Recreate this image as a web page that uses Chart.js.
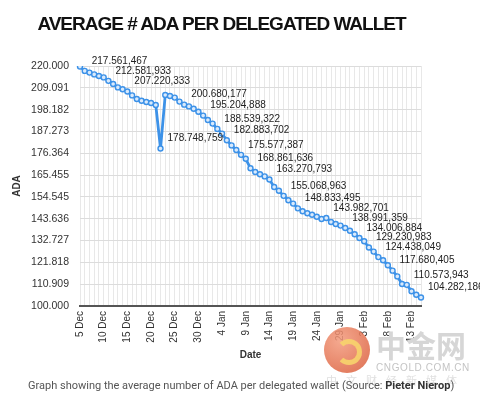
<!DOCTYPE html>
<html>
<head>
<meta charset="utf-8">
<script src="https://cdn.jsdelivr.net/npm/chart.js@4"></script>
<style>
  html, body { margin: 0; padding: 0; background: #fff; }
  #wrap { position: relative; width: 480px; height: 399px; overflow: hidden; }
  #c { position: absolute; left: 0; top: 0; }
  #title {
    position: absolute; left: 0; top: 14px; width: 443px; text-align: center;
    font: bold 19px/19px "Liberation Sans", Arial, sans-serif; letter-spacing: -1px; color: #111;
  }
  #caption {
    position: absolute; left: 28px; top: 379px; white-space: nowrap;
    font: 11px/14px Roboto, "Noto Sans", sans-serif; color: #555;
  }
  #caption b { color: #333; }
  .wm { position: absolute; pointer-events: none; white-space: nowrap; }
  #logo {
    left: 324px; top: 327px; width: 46px; height: 46px; border-radius: 50%;
    background: radial-gradient(circle at 35% 30%, #f39a7c, #e06a48 70%, #d35a3c);
    opacity: 0.85;
  }
  #swirl {
    left: 336px; top: 339px; width: 16px; height: 16px; border-radius: 50%;
    border: 5px solid #f8d46c; border-left-color: transparent; opacity: 0.9;
  }
  #cn { left: 376px; top: 327px; font: bold 30px/34px "Noto Sans CJK SC", sans-serif; color: #d6d6d6; }
  #en { left: 376px; top: 362px; font: 10px/11px "Liberation Sans", Arial, sans-serif; color: #c4c4c4; letter-spacing: 0.6px; }
  #sub { left: 326px; top: 374px; font: 11px/12px "Noto Sans CJK SC", sans-serif; color: #e0e0e0; letter-spacing: 9px; }
</style>
</head>
<body>
<div id="wrap">
  <canvas id="c" width="480" height="399"></canvas>
  <div id="title">AVERAGE # ADA PER DELEGATED WALLET</div>
  <div class="wm" id="logo"></div>
  <div class="wm" id="swirl"></div>
  <div class="wm" id="cn">中金网</div>
  <div class="wm" id="en">CNGOLD.COM.CN</div>
  <div class="wm" id="sub">中文财经新媒体</div>
  <div id="caption">Graph showing the average number of ADA per delegated wallet (Source: <b>Pieter Nierop</b>)</div>
</div>
<script>
// dates, one per day
var days = [
  "5 Dec", "6 Dec", "7 Dec", "8 Dec", "9 Dec", "10 Dec", "11 Dec", "12 Dec", "13 Dec", "14 Dec",
  "15 Dec", "16 Dec", "17 Dec", "18 Dec", "19 Dec", "20 Dec", "21 Dec", "22 Dec", "23 Dec", "24 Dec",
  "25 Dec", "26 Dec", "27 Dec", "28 Dec", "29 Dec", "30 Dec", "31 Dec",
  "1 Jan", "2 Jan", "3 Jan", "4 Jan", "5 Jan", "6 Jan", "7 Jan", "8 Jan", "9 Jan", "10 Jan",
  "11 Jan", "12 Jan", "13 Jan", "14 Jan", "15 Jan", "16 Jan", "17 Jan", "18 Jan", "19 Jan", "20 Jan",
  "21 Jan", "22 Jan", "23 Jan", "24 Jan", "25 Jan", "26 Jan", "27 Jan", "28 Jan", "29 Jan", "30 Jan", "31 Jan",
  "1 Feb", "2 Feb", "3 Feb", "4 Feb", "5 Feb", "6 Feb", "7 Feb", "8 Feb", "9 Feb", "10 Feb",
  "11 Feb", "12 Feb", "13 Feb", "14 Feb", "15 Feb"
];

// which dates get a label on the x axis
var tickLabels = ["5 Dec", "10 Dec", "15 Dec", "20 Dec", "25 Dec", "30 Dec", "4 Jan", "9 Jan",
  "14 Jan", "19 Jan", "24 Jan", "29 Jan", "3 Feb", "8 Feb", "13 Feb"];

// average ADA per delegated wallet (thousands)
var adaValues = [
  219.7, 217.561, 216.7, 215.8, 215.0, 214.3, 212.582, 211.0, 209.3, 208.4,
  207.220, 205.3, 203.5, 202.6, 202.0, 201.5, 200.5, 178.749, 205.5, 205.0,
  204.2, 202.2, 200.680, 199.8, 198.6, 197.1, 195.205,
  193.0, 191.2, 188.539, 186.2, 182.884, 180.3, 178.0, 175.577, 173.6, 168.862,
  167.0, 165.9, 164.8, 163.271, 159.5, 157.6, 155.069, 152.9, 151.2, 148.833,
  147.4, 146.4, 145.6, 144.6, 143.5, 143.983, 142.0, 141.0, 140.2, 138.991, 137.6,
  135.9, 134.007, 132.4, 129.231, 127.2, 124.438, 122.9, 120.4, 117.680, 114.8,
  111.0, 110.574, 107.4, 105.6, 104.282
];

// value labels written next to some points
var labelIndex = [1, 6, 10, 17, 22, 26, 29, 31, 34, 36, 40, 43, 46, 52, 56, 59, 61, 63, 66, 69, 72];
var labelText = [
  "217.561,467", "212.581,933", "207.220,333", "178.748,759", "200.680,177", "195.204,888",
  "188.539,322", "182.883,702", "175.577,387", "168.861,636", "163.270,793", "155.068,963",
  "148.833,495", "143.982,701", "138.991,359", "134.006,884", "129.230,983", "124.438,049",
  "117.680,405", "110.573,943", "104.282,186"
];

var yTicks = { min: 100, max: 220, count: 12 };

var FONT = '"Liberation Sans", Arial, sans-serif';

// draws the value text beside the marked points
var pointLabels = {
  id: "pointLabels",
  afterDatasetsDraw: function (chart) {
    var ctx = chart.ctx;
    var meta = chart.getDatasetMeta(0);
    ctx.save();
    ctx.font = "10px " + FONT;
    ctx.fillStyle = "#222";
    ctx.textBaseline = "middle";
    ctx.textAlign = "left";
    labelIndex.forEach(function (idx, k) {
      var p = meta.data[idx];
      ctx.fillText(labelText[k], p.x + 7, p.y - 10);
    });
    ctx.restore();
  }
};

var ctx = document.getElementById("c").getContext("2d");
new Chart(ctx, {
  type: "line",
  data: {
    labels: days,
    datasets: [{
      data: adaValues,
      borderColor: "#3d92e8",
      borderWidth: 2.8,
      pointRadius: 2.5,
      pointBorderWidth: 1.4,
      pointBackgroundColor: "#d9eafc",
      pointBorderColor: "#3d92e8",
      tension: 0,
      fill: false
    }]
  },
  options: {
    responsive: false,
    animation: false,
    layout: { padding: { left: 0, right: 59, top: 66, bottom: 34 } },
    plugins: {
      legend: { display: false },
      tooltip: { enabled: false }
    },
    scales: {
      x: {
        grid: { color: "#e8e8e8", drawTicks: false },
        border: { display: true, color: "#555", width: 2 },
        ticks: {
          autoSkip: false,
          maxRotation: 90,
          minRotation: 90,
          padding: 5,
          color: "#333",
          font: { size: 10, family: FONT },
          callback: function (v, i) {
            return tickLabels.indexOf(days[i]) >= 0 ? days[i] : "";
          }
        },
        title: {
          display: true, text: "Date", color: "#333",
          font: { size: 10, weight: "bold", family: FONT },
          padding: { top: 0, bottom: 4 }
        },
        afterFit: function (s) { s.height = 59; }
      },
      y: {
        min: yTicks.min,
        max: yTicks.max,
        grid: { color: "#dcdcdc", drawTicks: false },
        border: { display: false },
        ticks: {
          count: yTicks.count,
          padding: 11,
          color: "#333",
          font: { size: 10.5, family: FONT },
          callback: function (v) { return v.toFixed(3); }
        },
        title: {
          display: true, text: "ADA", color: "#333",
          font: { size: 10, weight: "bold", family: FONT },
          padding: { top: 11, bottom: 0 }
        },
        afterFit: function (s) { s.width = 80; }
      }
    }
  },
  plugins: [pointLabels]
});
</script>
</body>
</html>
